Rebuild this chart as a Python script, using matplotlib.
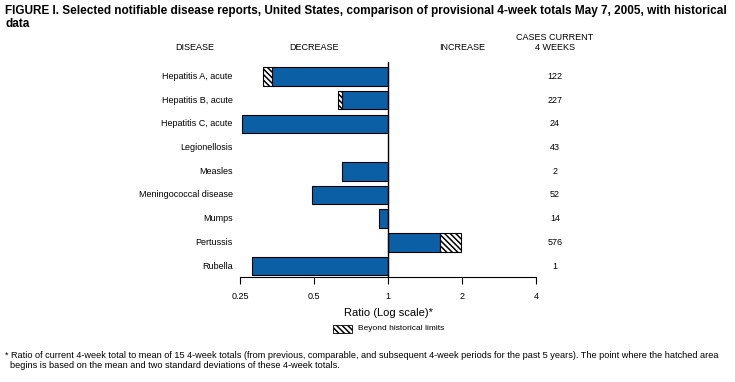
import matplotlib
matplotlib.use("Agg")
import matplotlib.pyplot as plt
from matplotlib.patches import Rectangle

plt.rcParams["font.family"] = ["Liberation Sans", "DejaVu Sans"]
plt.rcParams["hatch.linewidth"] = 1.1

diseases = ["Hepatitis A, acute", "Hepatitis B, acute", "Hepatitis C, acute",
            "Legionellosis", "Measles", "Meningococcal disease", "Mumps",
            "Pertussis", "Rubella"]
ratio = [0.31, 0.628, 0.255, 1.0, 0.652, 0.49, 0.922, 1.99, 0.28]
# where the hatched part (beyond historical limits) begins; None = no hatch
limit = [0.336, 0.648, None, None, None, None, None, 1.62, None]
cases = [122, 227, 24, 43, 2, 52, 14, 576, 1]
ticks = [0.25, 0.5, 1, 2, 4]
tick_labels = ["0.25", "0.5", "1", "2", "4"]

BLUE = "#0b5fa5"
HATCH = "\\" * 6

fig = plt.figure(figsize=(7.35, 3.82), dpi=100)
ax = fig.add_axes([240 / 735, 1 - 277 / 382, 296 / 735, 215 / 382])
ax.set_xscale("log", base=2)
ax.set_xlim(0.25, 4)
ax.set_ylim(8.46, -0.61)

bh = 0.78
for i, (r, lim) in enumerate(zip(ratio, limit)):
    if r == 1.0:
        continue
    edge = lim if lim is not None else r
    ax.barh(i, edge - 1, left=1, height=bh, color=BLUE, edgecolor="black",
            linewidth=0.8)
    if lim is not None:
        ax.barh(i, r - lim, left=lim, height=bh, color="white",
                edgecolor="black", linewidth=0.8, hatch=HATCH)

ax.axvline(1, color="black", lw=1.0)
for s in ["top", "right", "left"]:
    ax.spines[s].set_visible(False)
ax.spines["bottom"].set_linewidth(0.8)
ax.set_yticks([])
ax.set_xticks(ticks)
ax.set_xticklabels(tick_labels)
ax.xaxis.set_minor_locator(matplotlib.ticker.NullLocator())
ax.tick_params(axis="x", length=5, width=0.8, labelsize=6.5, pad=6)

# row labels and case counts
for i, (d, c) in enumerate(zip(diseases, cases)):
    ax.text(-0.025, i, d, transform=ax.get_yaxis_transform(), ha="right",
            va="center", fontsize=6.5)
    ax.text(1.064, i, str(c), transform=ax.get_yaxis_transform(), ha="center",
            va="center", fontsize=6.5)

# title and headers
fig.text(5 / 735, 1 - 11 / 382, "FIGURE I. Selected notifiable disease reports, "
         "United States, comparison of provisional 4-week totals May 7, 2005, "
         "with historical", fontsize=8.45, fontweight="bold", va="center")
fig.text(5 / 735, 1 - 24 / 382, "data", fontsize=8.45, fontweight="bold",
         va="center")
fig.text(195 / 735, 1 - 48 / 382, "DISEASE", fontsize=6.5, ha="center",
         va="center")
fig.text(314 / 735, 1 - 48 / 382, "DECREASE", fontsize=6.5, ha="center",
         va="center")
fig.text(462 / 735, 1 - 48 / 382, "INCREASE", fontsize=6.5, ha="center",
         va="center")
fig.text(555 / 735, 1 - 38 / 382, "CASES CURRENT", fontsize=6.5, ha="center",
         va="center")
fig.text(555 / 735, 1 - 48 / 382, "4 WEEKS", fontsize=6.5, ha="center",
         va="center")

fig.text(388 / 735, 1 - 313 / 382, "Ratio (Log scale)*", fontsize=8,
         ha="center", va="center")
fig.patches.append(Rectangle((333 / 735, 1 - 333 / 382), 19 / 735, 8 / 382,
                             transform=fig.transFigure, facecolor="white",
                             edgecolor="black", linewidth=0.6,
                             hatch=HATCH))
fig.text(358 / 735, 1 - 329 / 382, "Beyond historical limits", fontsize=6,
         va="center")

fig.text(5 / 735, 1 - 355 / 382, "* Ratio of current 4-week total to mean of 15 "
         "4-week totals (from previous, comparable, and subsequent 4-week "
         "periods for the past 5 years). The point where the hatched area",
         fontsize=6.55, va="center")
fig.text(10 / 735, 1 - 365 / 382, "begins is based on the mean and two standard "
         "deviations of these 4-week totals.", fontsize=6.55, va="center")

fig.savefig("out.png", dpi=100)
